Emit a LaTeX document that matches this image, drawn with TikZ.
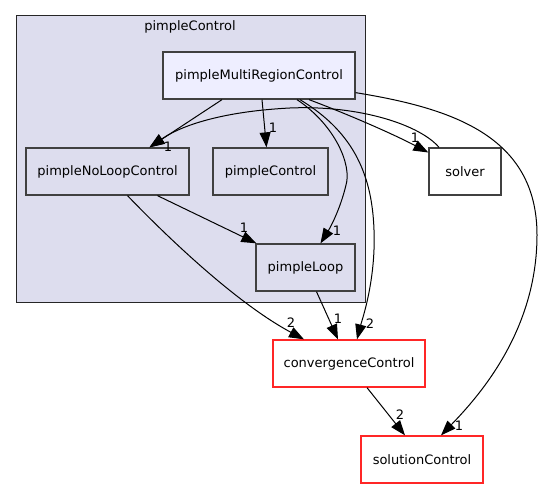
\documentclass[tikz,border=0pt]{standalone}
\usepackage{fontspec}
\setmainfont{DejaVu Sans}
\usetikzlibrary{arrows.meta}
\definecolor{clusterfill}{HTML}{DDDDEE}
\definecolor{mainfill}{HTML}{EEEEFF}
\definecolor{boxline}{HTML}{404040}
\tikzset{
  box/.style={draw=boxline, line width=1.3pt, minimum height=47pt, inner sep=0pt,
              font=\fontsize{13}{15}\selectfont},
  inbox/.style={box, fill=clusterfill},
  extbox/.style={box, fill=white, draw=red!85!white},
  dep/.style={line width=1pt, arrows={-Triangle[length=15pt,width=11pt]}},
  num/.style={font=\fontsize{13}{15}\selectfont, inner sep=0pt},
}
\begin{document}
\begin{tikzpicture}[x=1pt,y=-1pt]
\useasboundingbox[fill=white] (0,0) rectangle (543,489);
% package folder
\draw[fill=clusterfill, draw=black!85, line width=1pt] (16,16) rectangle (365,302);
\node[num] (title) at (190,27) {pimpleControl};
% directories
\node[box, fill=mainfill, minimum width=192pt] (mrc) at (259,75.5) {pimpleMultiRegionControl};
\node[inbox, minimum width=163pt] (noloop) at (107.5,171.5) {pimpleNoLoopControl};
\node[inbox, minimum width=115pt] (pc) at (270.5,171.5) {pimpleControl};
\node[inbox, minimum width=99pt] (loop) at (305.5,267.5) {pimpleLoop};
\node[box, fill=white, minimum width=72pt] (solver) at (465,171.5) {solver};
\node[extbox, minimum width=152pt] (conv) at (349,363.5) {convergenceControl};
\node[extbox, minimum width=122pt] (sol) at (422,459.5) {solutionControl};
% dependencies
\draw[dep] ([xshift=-37pt]mrc.south) -- ([xshift=42pt]noloop.north);
\draw[dep] ([xshift=3pt]mrc.south) -- ([xshift=-4pt]pc.north);
\node[num] (l1) at (273,128) {1};
\draw[dep] ([xshift=50pt]mrc.south) .. controls (350,115) and (395,135) .. ([yshift=19pt]solver.west);
\node[num] (l2) at (415,138) {1};
\draw[dep] ([xshift=-26pt]solver.north) .. controls (420,125) and (360,105) .. (290,108)
  .. controls (230,111) and (185,123) .. ([xshift=42pt]noloop.north);
\node[num] (l3) at (168,147) {1};
\draw[dep] ([xshift=38pt]mrc.south) .. controls (335,125) and (352,165) .. (346,185)
  .. controls (340,210) and (330,228) .. ([xshift=15pt]loop.north);
\node[num] (l4) at (337,231) {1};
\draw[dep] ([xshift=41pt]mrc.south) .. controls (350,130) and (372,170) .. (374,230)
  .. controls (376,280) and (362,320) .. ([xshift=8pt]conv.north);
\node[num] (l5) at (370,324) {2};
\draw[dep] ([yshift=7pt]mrc.south east) .. controls (450,108) and (537,135) .. (537,235)
  .. controls (537,330) and (480,395) .. ([xshift=19pt]sol.north);
\node[num] (l6) at (459,426) {1};
\draw[dep] ([xshift=50pt]noloop.south) -- ([xshift=1pt]loop.north west);
\node[num] (l7) at (244,228) {1};
\draw[dep] ([xshift=20pt]noloop.south) .. controls (175,245) and (240,305) .. ([xshift=-45pt]conv.north);
\node[num] (l8) at (291,323) {2};
\draw[dep] ([xshift=11pt]loop.south) -- ([xshift=-11pt]conv.north);
\node[num] (l9) at (338,319) {1};
\draw[dep] ([xshift=18pt]conv.south) -- ([xshift=-17pt]sol.north);
\node[num] (l10) at (400,415) {2};
\end{tikzpicture}
\end{document}
